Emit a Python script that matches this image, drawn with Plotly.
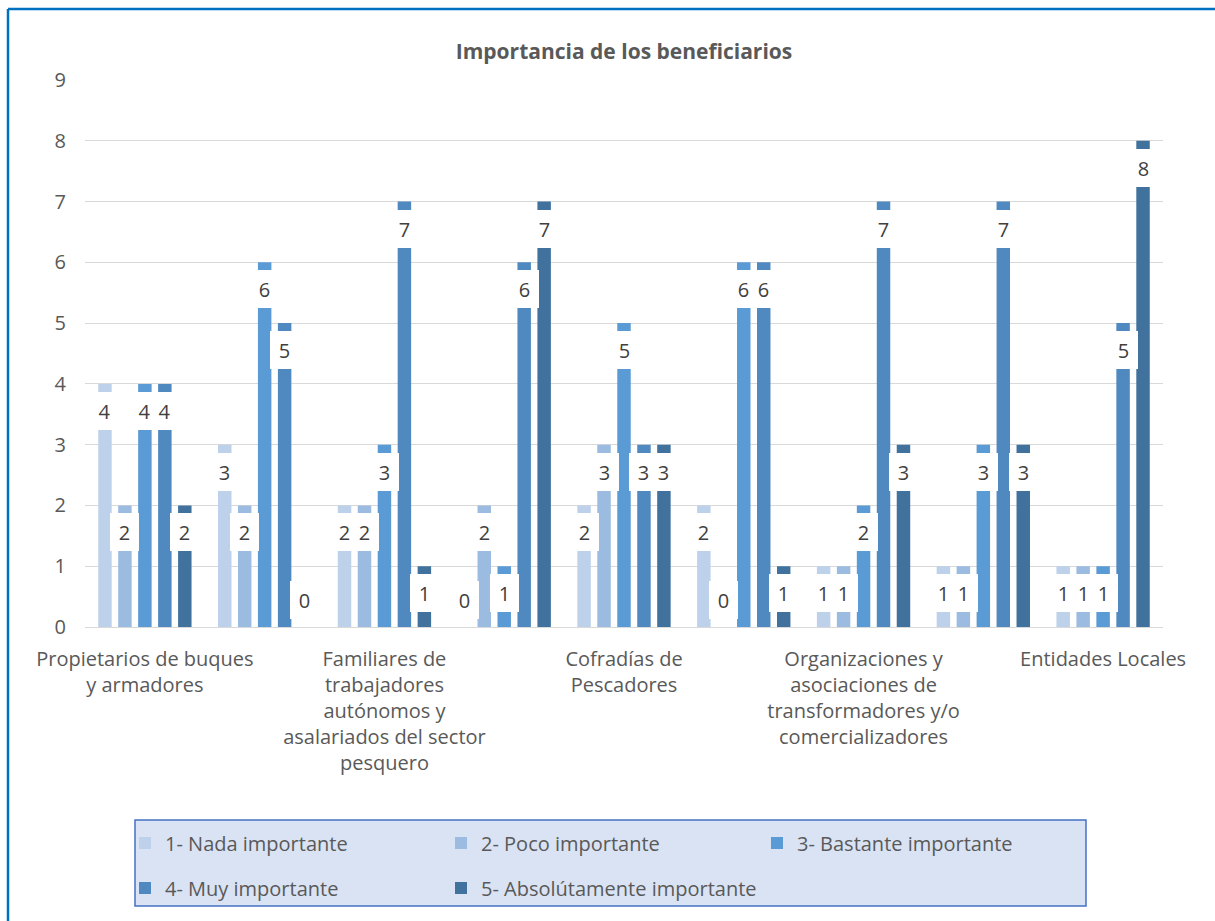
import plotly.graph_objects as go

# categories (the even-numbered ones are not labelled in the original chart)
CATEGORIAS = [
    "Propietarios de buques y armadores",
    "Grupo 2",
    "Familiares de trabajadores autónomos y asalariados del sector pesquero",
    "Grupo 4",
    "Cofradías de Pescadores",
    "Grupo 6",
    "Organizaciones y asociaciones de transformadores y/o comercializadores",
    "Grupo 8",
    "Entidades Locales",
]
TICK_LABELS = [
    "Propietarios de buques<br>y armadores",
    "Familiares de<br>trabajadores<br>autónomos y<br>asalariados del sector<br>pesquero",
    "Cofradías de<br>Pescadores",
    "Organizaciones y<br>asociaciones de<br>transformadores y/o<br>comercializadores",
    "Entidades Locales",
]

SERIES = [
    "1- Nada importante",
    "2- Poco importante",
    "3- Bastante importante",
    "4- Muy importante",
    "5- Absolútamente importante",
]
nada = [4, 3, 2, 0, 2, 2, 1, 1, 1]
poco = [2, 2, 2, 2, 3, 0, 1, 1, 1]
bastante = [4, 6, 3, 1, 5, 6, 2, 3, 1]
muy = [4, 5, 7, 6, 3, 6, 7, 7, 5]
absolut = [2, 0, 1, 7, 3, 1, 3, 3, 8]
VALUES = [nada, poco, bastante, muy, absolut]

COLORS = ["#bdd1ea", "#9cbbe0", "#5b9bd5", "#4f89bf", "#41729e"]

# plot area geometry (pixels) used to place page-level shapes
W, H = 1215, 921
L, R, T, B = 85, 52, 80, 294
PW, PH = W - L - R, H - T - B


def px_x(x):
    return (x - L) / PW


def px_y(y):
    return (H - B - y) / PH


fig = go.Figure()
for k, (name, vals) in enumerate(zip(SERIES, VALUES)):
    fig.add_trace(go.Bar(
        x=CATEGORIAS, y=vals, name=name,
        marker=dict(color=COLORS[k], line=dict(width=0)),
        legend="legend" if k < 3 else "legend2",
        hoverinfo="x+y+name",
    ))

# data labels in white boxes, just under the top of each bar
SLOT = (1 - 1 / 6) / 5
for k, vals in enumerate(VALUES):
    for i, v in enumerate(vals):
        fig.add_annotation(
            x=i + (k - 2) * SLOT, y=v, xref="x", yref="y",
            text=str(v), showarrow=False,
            yanchor="bottom" if v == 0 else "top",
            yshift=8 if v == 0 else -8,
            width=29, height=38, bgcolor="white",
            borderpad=0, borderwidth=0,
            font=dict(size=20, color="#404040"),
        )

# legend box
fig.add_shape(type="rect", xref="paper", yref="paper",
              x0=px_x(135), x1=px_x(1086), y0=px_y(906), y1=px_y(820),
              fillcolor="#dae3f3", line=dict(color="#4472c4", width=1.5),
              layer="below")
# outer chart border (left and top visible)
fig.add_shape(type="line", xref="paper", yref="paper",
              x0=px_x(8), x1=px_x(8), y0=px_y(9), y1=px_y(W + 50),
              line=dict(color="#0070c0", width=2.5))
fig.add_shape(type="line", xref="paper", yref="paper",
              x0=px_x(8), x1=px_x(W + 50), y0=px_y(9), y1=px_y(9),
              line=dict(color="#0070c0", width=2.5))

legend_common = dict(
    orientation="h", xanchor="left", yanchor="middle",
    bgcolor="rgba(0,0,0,0)", borderwidth=0,
    entrywidth=271, entrywidthmode="pixels",
    font=dict(size=20, color="#595959"),
    traceorder="normal",
)

fig.update_layout(
    width=W, height=H,
    margin=dict(l=L, r=R, t=T, b=B),
    paper_bgcolor="white", plot_bgcolor="white",
    font=dict(family="Open Sans, sans-serif", color="#595959"),
    title=dict(text="<b>Importancia de los beneficiarios</b>",
               x=0.5, xref="paper", xanchor="center",
               y=1 - 52 / H, yref="container", yanchor="middle",
               font=dict(size=21, color="#595959")),
    barmode="group", bargap=1 / 6, bargroupgap=0.325,
    showlegend=True,
    legend=dict(x=px_x(125), y=px_y(843), **legend_common),
    legend2=dict(x=px_x(125), y=px_y(888), **legend_common),
)
fig.update_xaxes(
    type="category", tickvals=CATEGORIAS[::2], ticktext=TICK_LABELS,
    tickfont=dict(size=20, color="#595959"), ticks="",
    ticklabelstandoff=14,
    showgrid=False, showline=True, linecolor="#d9d9d9", linewidth=1.3,
)
fig.update_yaxes(
    range=[0, 9], dtick=1, tickfont=dict(size=20, color="#595959"),
    ticks="", ticklabelstandoff=18,
    showgrid=True, gridcolor="#d9d9d9", gridwidth=1.3,
    zeroline=False,
)

# the page is photographed from its top-left corner: drop the default body margin
fig.write_html("out.html", config={"displayModeBar": False},
               post_script="document.body.style.margin='0px';")
